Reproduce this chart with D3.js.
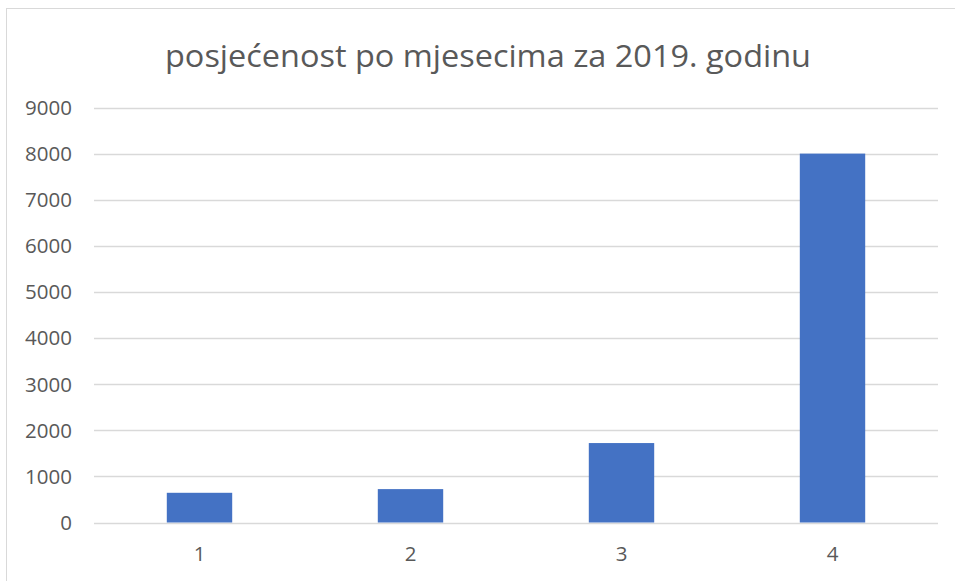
<!DOCTYPE html>
<html>
<head>
<meta charset="utf-8">
<script src="https://cdn.jsdelivr.net/npm/d3@7"></script>
<style>
  body { margin: 0; background: #fff; }
  text { font-family: "Open Sans", "Noto Sans", sans-serif; fill: #595959; }
</style>
</head>
<body>
<div id="chart"></div>
<script>
var w = 955, h = 581;

// data
var title = "posjećenost po mjesecima za 2019. godinu";
var months = ["1", "2", "3", "4"];
var visits = [645, 725, 1725, 8010];
var yTicks = [0, 1000, 2000, 3000, 4000, 5000, 6000, 7000, 8000, 9000];

var margin = {top: 108, right: 17, bottom: 58, left: 94};

var svg = d3.select("#chart").append("svg")
  .attr("width", w)
  .attr("height", h);

// chart frame (runs off the right / bottom of the window)
svg.append("rect")
  .attr("x", 6.5).attr("y", 8.5)
  .attr("width", 960).attr("height", 590)
  .attr("fill", "none")
  .attr("stroke", "#d9d9d9");

var x = d3.scaleBand()
  .domain(months)
  .range([margin.left, w - margin.right])
  .paddingInner(0.69)
  .paddingOuter(0.345);

var y = d3.scaleLinear()
  .domain([0, 9000])
  .range([h - margin.bottom - 0.5, margin.top]);

// gridlines
svg.append("g")
  .selectAll("line")
  .data(yTicks)
  .enter().append("line")
    .attr("x1", margin.left)
    .attr("x2", w - margin.right)
    .attr("y1", function(d){ return Math.round(y(d)) + 0.5; })
    .attr("y2", function(d){ return Math.round(y(d)) + 0.5; })
    .attr("stroke", "#d9d9d9")
    .attr("stroke-width", 1.3);

// y labels
svg.append("g")
  .selectAll("text")
  .data(yTicks)
  .enter().append("text")
    .attr("x", 72)
    .attr("y", function(d){ return y(d); })
    .attr("dy", "0.35em")
    .attr("text-anchor", "end")
    .style("font-size", "20.5px")
    .text(function(d){ return d; });

// bars
svg.append("g")
  .selectAll("rect")
  .data(visits)
  .enter().append("rect")
    .attr("x", function(d, i){ return x(months[i]); })
    .attr("width", x.bandwidth())
    .attr("y", function(d){ return y(d); })
    .attr("height", function(d){ return y(0) - y(d); })
    .attr("fill", "#4472c4");

// x labels
svg.append("g")
  .selectAll("text")
  .data(months)
  .enter().append("text")
    .attr("x", function(d){ return x(d) + x.bandwidth() / 2; })
    .attr("y", 554)
    .attr("dy", "0.35em")
    .attr("text-anchor", "middle")
    .style("font-size", "20.5px")
    .text(function(d){ return d; });

svg.append("text")
  .attr("x", 488)
  .attr("y", 67)
  .attr("text-anchor", "middle")
  .attr("textLength", 646)
  .attr("lengthAdjust", "spacingAndGlyphs")
  .style("font-size", "31px")
  .text(title);
</script>
</body>
</html>
